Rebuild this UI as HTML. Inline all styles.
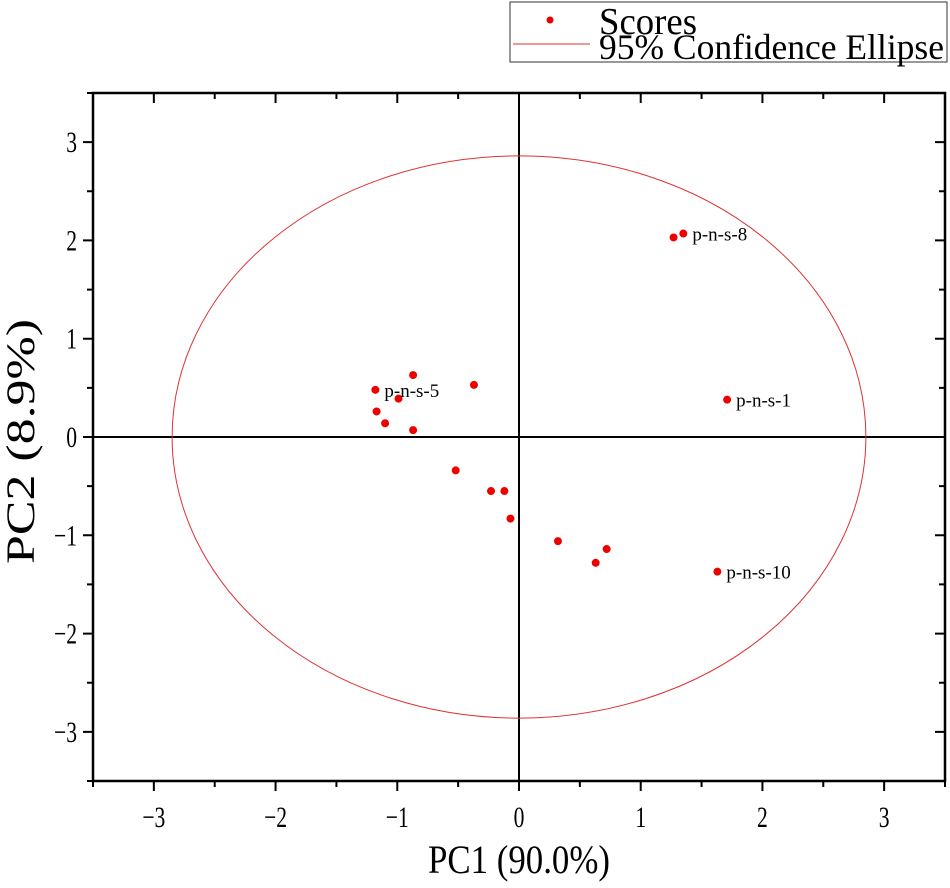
<!DOCTYPE html>
<html><head><meta charset="utf-8"><style>
html,body{margin:0;padding:0;background:#fff;}
svg{display:block;font-family:"Liberation Serif",serif;}
</style></head><body>
<svg width="950" height="888" viewBox="0 0 950 888">
<g id="axes"></g>
<g id="marks"></g>
<g>
<rect x="510" y="2" width="437" height="60" fill="#fff" stroke="#333" stroke-width="1"/>
<circle cx="550" cy="20" r="3.5" fill="#e00"/>
<text x="599" y="34" font-size="38" textLength="98" lengthAdjust="spacingAndGlyphs">Scores</text>
<line x1="513" y1="44" x2="590" y2="44" stroke="#d33" stroke-width="1"/>
<text x="599" y="59" font-size="36" textLength="345" lengthAdjust="spacingAndGlyphs">95% Confidence Ellipse</text>
</g>
<text x="428" y="873" font-size="40" textLength="182" lengthAdjust="spacingAndGlyphs">PC1 (90.0%)</text>
<text transform="translate(34,564) rotate(-90)" font-size="40" textLength="245" lengthAdjust="spacingAndGlyphs">PC2 (8.9%)</text>
</svg>
<script>
const xs=[1.27,1.35,1.71,1.63,-1.18,-0.87,-0.37,-0.99,-1.17,-1.10,-0.87,-0.52,-0.23,-0.12,-0.07,0.32,0.72,0.63];
const ys=[2.03,2.07,0.38,-1.37,0.48,0.63,0.53,0.39,0.26,0.14,0.07,-0.34,-0.55,-0.55,-0.83,-1.06,-1.14,-1.28];
const labelText=["p-n-s-8","p-n-s-1","p-n-s-10","p-n-s-5"];
const labelX=[1.35,1.71,1.63,-1.18];
const labelY=[2.07,0.38,-1.37,0.48];
const ellipseR=[2.85,2.86];
const xTicks=[-3,-2,-1,0,1,2,3];
const yTicks=[-3,-2,-1,0,1,2,3];
const xMin=-3.5,xMax=3.5,yMin=-3.5,yMax=3.5;
const L=93,R=945,T=93,B=781;
const sx=v=>L+(v-xMin)/(xMax-xMin)*(R-L);
const sy=v=>B-(v-yMin)/(yMax-yMin)*(B-T);
const NS='http://www.w3.org/2000/svg';
function mk(p,t,a){const e=document.createElementNS(NS,t);for(const k in a)e.setAttribute(k,a[k]);p.appendChild(e);return e;}
const ax=document.getElementById('axes'),mg=document.getElementById('marks');
let e;
e=mk(ax,'path',{d:`M${L},${T}H${R}V${B}H${L}Z`,fill:'none',stroke:'#000','stroke-width':2.5});


e=mk(ax,'line',{x1:sx(0),x2:sx(0),y1:T,y2:B,stroke:'#000','stroke-width':2});


e=mk(ax,'line',{x1:L,x2:R,y1:sy(0),y2:sy(0),stroke:'#000','stroke-width':2});


for(let v=-3.5;v<=3.51;v+=0.5){
  const major=Math.abs(v-Math.round(v))<1e-6;const len=major?10:6;
  e=mk(ax,'path',{d:`M${sx(v)},${B}v${len}M${sx(v)},${T}v${len}`,stroke:'#000','stroke-width':2});
  
  
  e=mk(ax,'path',{d:`M${L},${sy(v)}h${-len}M${R},${sy(v)}h${-len}`,stroke:'#000','stroke-width':2});
  
  
}
xTicks.forEach(v=>{e=mk(ax,'text',{transform:`translate(${sx(v)},${B+46}) scale(0.72,1)`,'font-size':30,'text-anchor':'middle'});e.textContent=(v<0?'\u2212':'')+Math.abs(v);
  
  });
yTicks.forEach(v=>{e=mk(ax,'text',{transform:`translate(${L-16},${sy(v)+10}) scale(0.72,1)`,'font-size':30,'text-anchor':'end'});e.textContent=(v<0?'\u2212':'')+Math.abs(v);
  
  });
e=mk(mg,'ellipse',{cx:sx(0),cy:sy(0),rx:sx(ellipseR[0])-sx(0),ry:sy(0)-sy(ellipseR[1]),fill:'none',stroke:'#d33','stroke-width':1});


xs.forEach((x,i)=>{e=mk(mg,'circle',{cx:sx(x),cy:sy(ys[i]),r:4,fill:'#e00'});
  
  });
labelText.forEach((t,i)=>{e=mk(mg,'text',{x:sx(labelX[i])+9,y:sy(labelY[i])+7,'font-size':19});e.textContent=t;
  
  });
</script>
</body></html>
